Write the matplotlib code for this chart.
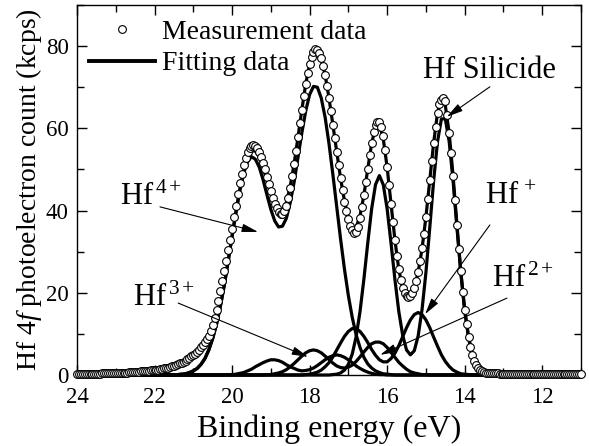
import numpy as np
import matplotlib
matplotlib.use('Agg')
import matplotlib.pyplot as plt
from matplotlib.lines import Line2D
from matplotlib.ticker import MultipleLocator

plt.rcParams['font.family'] = ['Liberation Serif', 'DejaVu Serif']
plt.rcParams['mathtext.fontset'] = 'custom'
plt.rcParams['mathtext.rm'] = 'Liberation Serif'
plt.rcParams['mathtext.it'] = 'Liberation Serif:italic'
plt.rcParams['mathtext.bf'] = 'Liberation Serif:bold'

# measured spectrum: 24.00 -> 11.00 eV, 0.05 eV step (one row = 0.5 eV)
meas_energy = np.round(np.linspace(24.0, 11.0, 261), 2)
meas_counts = [
    0.2, 0.2, 0.2, 0.2, 0.2, 0.2, 0.3, 0.3, 0.3, 0.3,
    0.3, 0.3, 0.3, 0.4, 0.4, 0.4, 0.4, 0.4, 0.5, 0.5,
    0.5, 0.5, 0.5, 0.6, 0.6, 0.6, 0.6, 0.7, 0.7, 0.7,
    0.8, 0.8, 0.8, 0.9, 0.9, 0.9, 1.0, 1.0, 1.1, 1.1,
    1.2, 1.2, 1.3, 1.4, 1.5, 1.6, 1.7, 1.8, 2.0, 2.1,
    2.2, 2.4, 2.6, 2.8, 3.0, 3.2, 3.5, 3.8, 4.2, 4.5,
    4.9, 5.2, 5.6, 6.1, 6.7, 7.3, 8.0, 8.7, 9.6, 10.8,
    12.2, 13.9, 15.8, 18.1, 20.5, 22.9, 25.3, 27.8, 30.3, 32.9,
    35.5, 38.4, 41.2, 44.0, 46.6, 49.0, 51.0, 52.8, 54.2, 55.2,
    55.8, 56.0, 55.8, 55.2, 54.3, 53.1, 51.6, 50.0, 48.2, 46.4,
    44.7, 43.1, 41.7, 40.5, 39.6, 39.1, 39.2, 39.8, 41.0, 43.1,
    45.6, 48.4, 51.3, 54.5, 57.8, 61.2, 64.5, 67.8, 70.8, 73.4,
    75.6, 77.3, 78.6, 79.2, 79.1, 78.4, 77.0, 75.2, 73.0, 70.4,
    67.4, 64.3, 60.9, 57.6, 54.3, 51.0, 47.8, 44.9, 42.2, 39.9,
    37.9, 36.3, 35.2, 34.6, 34.8, 36.0, 38.1, 40.8, 43.7, 46.9,
    50.2, 53.4, 56.4, 59.0, 60.8, 61.6, 61.5, 60.4, 58.2, 54.8,
    50.6, 46.2, 41.7, 37.2, 32.9, 29.0, 25.7, 23.1, 21.2, 19.9,
    19.1, 18.9, 19.2, 19.9, 21.1, 22.8, 25.0, 27.7, 30.8, 34.4,
    38.5, 42.9, 47.5, 52.1, 56.5, 60.4, 63.8, 66.0, 66.9, 67.4,
    66.6, 63.2, 58.9, 54.0, 48.5, 42.6, 36.6, 30.7, 25.2, 20.3,
    15.9, 12.3, 9.3, 6.8, 4.9, 3.5, 2.4, 1.7, 1.2, 0.9,
    0.7, 0.6, 0.5, 0.5, 0.4, 0.4, 0.4, 0.4, 0.3, 0.3,
    0.3, 0.3, 0.3, 0.3, 0.3, 0.3, 0.3, 0.3, 0.3, 0.3,
    0.2, 0.2, 0.2, 0.2, 0.2, 0.2, 0.2, 0.2, 0.2, 0.2,
    0.2, 0.2, 0.2, 0.2, 0.2, 0.2, 0.2, 0.2, 0.2, 0.2,
    0.2, 0.2, 0.2, 0.2, 0.2, 0.2, 0.2, 0.2, 0.2, 0.2,
    0.2,
]

# fitted components: 21.5 -> 13.0 eV, 0.1 eV step (one row = 1 eV)
fit_energy = np.round(np.linspace(21.5, 13.0, 86), 1)
hf4 = [
    0.0, 0.1, 0.2, 0.3, 0.6, 1.0, 1.6, 2.6, 4.0, 6.1,
    8.9, 12.4, 16.8, 21.9, 27.7, 33.7, 39.5, 44.8, 49.1, 51.9,
    53.1, 52.5, 50.6, 47.5, 43.8, 40.3, 37.5, 36.0, 36.2, 38.1,
    41.9, 46.9, 52.9, 58.9, 64.2, 68.2, 70.2, 70.0, 67.4, 62.7,
    56.3, 48.8, 40.9, 33.0, 25.7, 19.3, 14.0, 9.8, 6.7, 4.3,
    2.7, 1.7, 1.0, 0.6, 0.3, 0.2, 0.1, 0.0, 0.0, 0.0,
    0.0, 0.0, 0.0, 0.0, 0.0, 0.0, 0.0, 0.0, 0.0, 0.0,
    0.0, 0.0, 0.0, 0.0, 0.0, 0.0, 0.0, 0.0, 0.0, 0.0,
    0.0, 0.0, 0.0, 0.0, 0.0, 0.0,
]
silicide = [
    0.0, 0.0, 0.0, 0.0, 0.0, 0.0, 0.0, 0.0, 0.0, 0.0,
    0.0, 0.0, 0.0, 0.0, 0.0, 0.0, 0.0, 0.0, 0.0, 0.0,
    0.0, 0.0, 0.0, 0.0, 0.0, 0.0, 0.0, 0.0, 0.0, 0.0,
    0.0, 0.0, 0.0, 0.0, 0.0, 0.0, 0.0, 0.0, 0.0, 0.0,
    0.0, 0.1, 0.2, 0.5, 1.2, 2.6, 5.1, 9.3, 15.4, 23.3,
    32.1, 40.4, 46.3, 48.5, 46.3, 40.4, 32.1, 23.3, 15.5, 9.7,
    6.1, 4.9, 5.9, 9.5, 15.9, 24.9, 35.9, 47.3, 56.8, 62.3,
    62.3, 56.8, 47.3, 35.9, 24.9, 15.7, 9.1, 4.8, 2.3, 1.0,
    0.4, 0.1, 0.0, 0.0, 0.0, 0.0,
]
hf1 = [
    0.0, 0.0, 0.0, 0.0, 0.0, 0.0, 0.0, 0.0, 0.0, 0.0,
    0.0, 0.0, 0.0, 0.0, 0.0, 0.0, 0.0, 0.0, 0.0, 0.0,
    0.0, 0.0, 0.0, 0.0, 0.0, 0.0, 0.0, 0.0, 0.0, 0.0,
    0.0, 0.0, 0.0, 0.0, 0.1, 0.2, 0.4, 0.7, 1.2, 2.0,
    3.0, 4.4, 6.1, 7.8, 9.4, 10.6, 11.3, 11.3, 10.6, 9.4,
    7.9, 6.2, 4.8, 3.7, 3.2, 3.2, 4.0, 5.3, 7.1, 9.3,
    11.5, 13.4, 14.7, 15.2, 14.7, 13.4, 11.5, 9.2, 7.0, 4.9,
    3.3, 2.1, 1.2, 0.7, 0.3, 0.2, 0.1, 0.0, 0.0, 0.0,
    0.0, 0.0, 0.0, 0.0, 0.0, 0.0,
]
hf2 = [
    0.0, 0.0, 0.0, 0.0, 0.0, 0.0, 0.0, 0.0, 0.0, 0.0,
    0.0, 0.0, 0.0, 0.0, 0.0, 0.0, 0.0, 0.0, 0.0, 0.0,
    0.0, 0.0, 0.0, 0.0, 0.1, 0.1, 0.3, 0.5, 0.8, 1.3,
    2.0, 2.8, 3.7, 4.6, 5.4, 5.9, 6.1, 5.9, 5.4, 4.6,
    3.8, 2.9, 2.2, 1.8, 1.7, 1.9, 2.4, 3.3, 4.4, 5.6,
    6.7, 7.6, 8.0, 8.0, 7.6, 6.7, 5.5, 4.3, 3.1, 2.2,
    1.4, 0.8, 0.5, 0.3, 0.1, 0.1, 0.0, 0.0, 0.0, 0.0,
    0.0, 0.0, 0.0, 0.0, 0.0, 0.0, 0.0, 0.0, 0.0, 0.0,
    0.0, 0.0, 0.0, 0.0, 0.0, 0.0,
]
hf3 = [
    0.0, 0.0, 0.0, 0.0, 0.0, 0.0, 0.0, 0.0, 0.0, 0.0,
    0.0, 0.0, 0.0, 0.0, 0.1, 0.1, 0.2, 0.4, 0.6, 1.0,
    1.4, 2.0, 2.5, 3.0, 3.4, 3.7, 3.7, 3.5, 3.1, 2.5,
    2.0, 1.6, 1.2, 1.0, 1.1, 1.3, 1.7, 2.3, 3.0, 3.7,
    4.3, 4.7, 4.9, 4.7, 4.3, 3.7, 3.0, 2.2, 1.6, 1.1,
    0.7, 0.4, 0.2, 0.1, 0.1, 0.0, 0.0, 0.0, 0.0, 0.0,
    0.0, 0.0, 0.0, 0.0, 0.0, 0.0, 0.0, 0.0, 0.0, 0.0,
    0.0, 0.0, 0.0, 0.0, 0.0, 0.0, 0.0, 0.0, 0.0, 0.0,
    0.0, 0.0, 0.0, 0.0, 0.0, 0.0,
]
components = [hf4, silicide, hf1, hf2, hf3]

# components sit on the zero baseline across the whole window
x_line = np.concatenate([[24.0], fit_energy, [11.0]])
comp_lines = [np.concatenate([[0.0], c, [0.0]]) for c in components]
fit_total = np.sum(comp_lines, axis=0)

fig = plt.figure(figsize=(5.89, 4.46), dpi=100)
ax = fig.add_axes([0.1307, 0.1592, 0.8557, 0.8296])

for c in comp_lines:
    ax.plot(x_line, c, color='black', lw=2.3, clip_on=False, zorder=2)
ax.plot(x_line, fit_total, color='black', lw=2.3, clip_on=False, zorder=2)
ax.plot(meas_energy, meas_counts, 'o', ms=5.6, mfc='white', mec='black',
        mew=0.8, clip_on=False, zorder=3)

ax.set_xlim(24, 11)
ax.set_ylim(0, 90)
ax.xaxis.set_major_locator(MultipleLocator(2))
ax.xaxis.set_minor_locator(MultipleLocator(1))
ax.yaxis.set_major_locator(MultipleLocator(20))
ax.yaxis.set_minor_locator(MultipleLocator(10))
ax.tick_params(which='both', direction='in', top=True, right=True, width=1)
ax.tick_params(which='major', length=7, labelsize=16.5)
ax.tick_params(which='minor', length=5)
ax.tick_params(axis='x', pad=9)
ax.tick_params(axis='y', pad=6)
for s in ax.spines.values():
    s.set_linewidth(1.0)

ax.set_xlabel('Binding energy (eV)', fontsize=23, labelpad=4)
ax.set_ylabel('Hf 4$f$ photoelectron count (kcps)', fontsize=20, labelpad=1)

# peak labels and arrows
lbl = dict(fontsize=22, ha='left', va='baseline')
ax.text(22.89, 41.4, r'Hf$^{\,4+}$', **lbl)
ax.text(22.56, 16.8, r'Hf$^{\,3+}$', **lbl)
ax.text(13.30, 21.4, r'Hf$^{\,2+}$', **lbl)
ax.text(13.48, 41.6, r'Hf$^{\,+}$', **lbl)
ax.text(15.08, 72.3, 'Hf Silicide', **lbl)

arrow = dict(arrowstyle='-|>,head_length=0.7,head_width=0.18', color='black',
             lw=0.8, shrinkA=0, shrinkB=0, mutation_scale=14)
ax.annotate('', xy=(19.33, 34.8), xytext=(21.86, 40.9), arrowprops=arrow)
ax.annotate('', xy=(18.04, 4.4), xytext=(21.39, 17.5), arrowprops=arrow)
ax.annotate('', xy=(16.18, 4.9), xytext=(12.91, 18.7), arrowprops=arrow)
ax.annotate('', xy=(15.02, 14.8), xytext=(13.35, 36.5), arrowprops=arrow)
ax.annotate('', xy=(14.46, 62.8), xytext=(13.35, 70.1), arrowprops=arrow)

handles = [
    Line2D([], [], ls='none', marker='o', ms=5.6, mfc='white', mec='black', mew=0.8),
    Line2D([], [], color='black', lw=2.8),
]
ax.legend(handles, ['Measurement data', 'Fitting data'], loc='upper left',
          bbox_to_anchor=(0.0, 0.995), frameon=False, fontsize=20,
          handlelength=2.35, handletextpad=0.25, labelspacing=0.22,
          borderaxespad=0.1, borderpad=0.35, numpoints=1)

fig.savefig('out.png', dpi=100)
